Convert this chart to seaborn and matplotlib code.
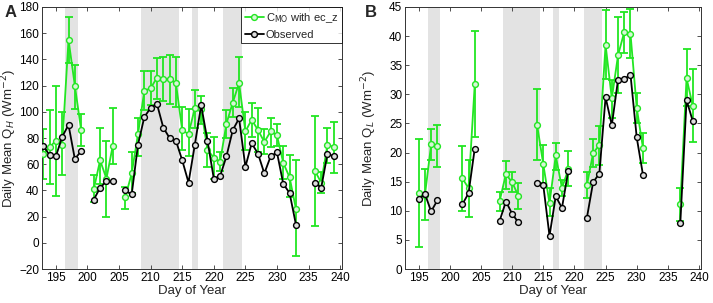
import numpy as np
import pandas as pd
import matplotlib
matplotlib.use("Agg")
import matplotlib.pyplot as plt
import seaborn as sns
from matplotlib.lines import Line2D

# ---------------- data ----------------
days_h = [193,194,195,196,197,198,199,201,202,203,204,206,207,208,209,210,211,212,213,214,215,216,
          217,218,219,220,221,222,223,224,225,226,227,228,229,230,231,232,233,236,237,238,239]
obs_h = [74,67,66,81,90,64,70,33,42,47,47,40,37,75,96,103,106,88,80,78,63,46,
         75,105,78,49,51,66,86,95,58,76,68,53,66,69,45,38,14,46,42,68,66]
mod_h = [68,73,78,75,155,120,86,41,63,49,74,35,53,83,116,118,126,125,125,122,86,83,
         103,102,71,65,62,91,107,122,85,94,86,77,85,82,61,50,26,55,46,75,73]
mod_h_hi = [87,101,120,100,172,136,98,52,88,78,103,43,69,95,131,131,141,142,143,142,104,102,
            117,112,84,81,69,101,118,142,100,107,103,87,95,91,74,67,63,97,54,88,92]
mod_h_lo = [49,45,36,52,137,102,74,31,45,20,60,26,38,66,101,105,110,108,106,104,71,66,
            88,91,58,49,55,80,96,104,71,81,69,68,73,74,49,35,-10,13,38,61,53]

days_l = [195,196,197,198,202,203,204,208,209,210,211,214,215,216,217,218,219,222,223,224,
          225,226,227,228,229,230,231,237,238,239]
obs_l = [12.0,12.9,9.9,11.8,11.1,13.0,20.7,8.3,11.6,9.5,8.0,14.7,14.4,5.7,12.5,10.5,16.8,8.8,14.9,16.4,
         29.5,24.7,32.5,32.6,33.4,22.6,16.2,7.9,29.0,25.4]
mod_l = [13.1,12.7,21.4,21.1,15.6,13.9,31.7,11.7,16.3,14.9,12.6,24.8,18.0,11.3,19.5,13.9,17.1,14.4,19.9,21.3,
         38.5,29.3,36.7,40.7,40.4,27.7,20.8,11.2,32.8,28.0]
mod_l_hi = [22.4,17.1,24.0,24.7,21.2,18.7,40.9,13.3,18.6,16.6,14.7,31.0,21.3,14.0,21.6,15.3,20.2,16.6,22.3,24.6,
            44.4,32.5,43.3,44.1,44.7,30.2,23.4,14.0,37.7,34.4]
mod_l_lo = [3.8,8.5,18.8,17.5,10.0,9.0,22.6,10.0,13.7,13.2,10.3,18.7,14.7,9.1,17.0,12.5,14.2,12.2,17.6,17.8,
            32.7,26.0,30.2,37.1,36.2,25.0,18.2,8.2,28.0,21.9]

shade_spans = [(196.5, 198.5), (208.5, 214.5), (216.5, 217.5), (221.5, 224.4)]
xticks = [195, 200, 205, 210, 215, 220, 225, 230, 235, 240]

GREEN = "#22e622"

# ---------------- style ----------------
sns.set_style("ticks")
plt.rcParams["font.family"] = ["Liberation Sans", "DejaVu Sans"]
plt.rcParams.update({
    "xtick.direction": "in", "ytick.direction": "in",
    "xtick.top": True, "ytick.right": True,
    "xtick.major.size": 3, "ytick.major.size": 3,
    "xtick.major.width": 0.6, "ytick.major.width": 0.6,
    "axes.linewidth": 0.7, "axes.edgecolor": "#333333",
    "xtick.color": "#333333", "ytick.color": "#333333",
    "xtick.labelcolor": "black", "ytick.labelcolor": "black",
})

fig = plt.figure(figsize=(7.13, 3.03), dpi=100)
axA = fig.add_axes([0.0589, 0.112, 0.4208, 0.865])
axB = fig.add_axes([0.568, 0.112, 0.415, 0.865])


def make_df(days, vals, name):
    d = np.asarray(days)
    seg = np.concatenate([[0], np.cumsum(np.diff(d) > 1)])
    return pd.DataFrame({"day": d, "val": vals, "seg": seg, "series": name})


def draw(ax, days, obs, mod, hi, lo, ylim, yticks, ylabel, legend, ylab_x):
    for a, b in shade_spans:
        ax.axvspan(a, b, color="#e3e3e3", lw=0, zorder=0)
    mod = np.asarray(mod, float)
    ax.errorbar(days, mod, yerr=[mod - np.asarray(lo), np.asarray(hi) - mod], fmt="none",
                ecolor=GREEN, elinewidth=1.3, capsize=2.6, capthick=1.3, zorder=2)
    dfm = make_df(days, mod, "mod")
    dfo = make_df(days, obs, "obs")
    sns.lineplot(data=dfm, x="day", y="val", units="seg", estimator=None, ax=ax,
                 color=GREEN, lw=1.3, marker="o", markersize=4.2, markerfacecolor="#d8f5d8",
                 markeredgecolor=GREEN, markeredgewidth=1.0, zorder=3, legend=False)
    sns.lineplot(data=dfo, x="day", y="val", units="seg", estimator=None, ax=ax,
                 color="black", lw=1.3, marker="o", markersize=4.2, markerfacecolor="#dddddd",
                 markeredgecolor="black", markeredgewidth=1.0, zorder=4, legend=False)
    ax.set_xlim(192.8, 240.3)
    ax.set_ylim(*ylim)
    ax.set_xticks(xticks)
    ax.set_yticks(yticks)
    ax.tick_params(labelsize=8.5, pad=2)
    ax.set_xlabel("Day of Year", fontsize=9.5, labelpad=1)
    ax.set_ylabel(ylabel, fontsize=9.5)
    ax.yaxis.set_label_coords(ylab_x, 0.5)
    for s in ax.spines.values():
        s.set_visible(True)
    if legend:
        h = [Line2D([], [], color=GREEN, lw=1.3, marker="o", markersize=4.2,
                    markerfacecolor="#d8f5d8", markeredgecolor=GREEN),
             Line2D([], [], color="black", lw=1.3, marker="o", markersize=4.2,
                    markerfacecolor="#dddddd", markeredgecolor="black")]
        leg = ax.legend(h, [r"C$_{\mathrm{MO}}$ with ec_z", "Observed"], loc="upper right",
                        fontsize=8, frameon=True, fancybox=False, borderaxespad=0.0,
                        handlelength=1.7, handletextpad=0.2, borderpad=0.35, labelspacing=0.45)
        leg.get_frame().set_edgecolor("black")
        leg.get_frame().set_linewidth(0.7)


draw(axA, days_h, obs_h, mod_h, mod_h_hi, mod_h_lo, (-20, 180), range(-20, 181, 20),
     r"Daily Mean Q$_H$ (Wm$^{-2}$)", True, -0.078)
draw(axB, days_l, obs_l, mod_l, mod_l_hi, mod_l_lo, (0, 45), range(0, 46, 5),
     r"Daily Mean Q$_L$ (Wm$^{-2}$)", False, -0.088)

fig.text(0.006, 0.958, "A", fontsize=12, fontweight="bold", va="center")
fig.text(0.512, 0.958, "B", fontsize=12, fontweight="bold", va="center")

fig.savefig("out.png", dpi=100)
